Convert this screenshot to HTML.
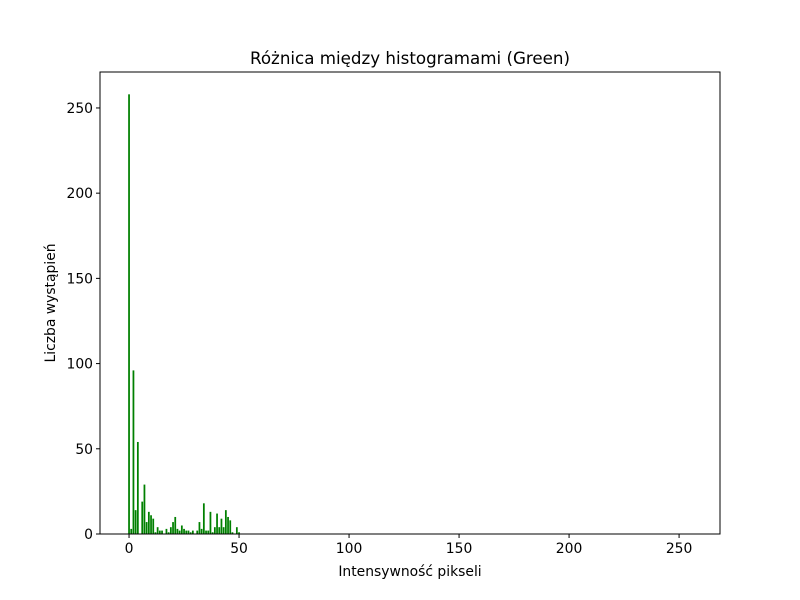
<!DOCTYPE html>
<html><head><meta charset="utf-8"><style>
body{margin:0;background:#fff;}
svg{display:block;font-family:"DejaVu Sans","Liberation Sans",sans-serif;}
</style></head><body>
<svg id="chart" width="800" height="600">
<rect width="800" height="600" fill="#fff"/>
<text x="410" y="64" text-anchor="middle" font-size="16.7">Różnica między histogramami (Green)</text>
<text x="410" y="576" text-anchor="middle" font-size="13.9">Intensywność pikseli</text>
<text transform="translate(55,303) rotate(-90)" text-anchor="middle" font-size="13.9">Liczba wystąpień</text>
<g id="bars"></g>
<g id="ticks"></g>
<rect x="100" y="72" width="620" height="462" fill="none" stroke="#000" stroke-width="1"/>
</svg>
<script>
const intensities = [0,1,2,3,4,5,6,7,8,9,10,11,12,13,14,15,16,17,18,19,20,21,22,23,24,25,26,27,28,29,30,31,32,33,34,35,36,37,38,39,40,41,42,43,44,45,46,47,48,49,50];
const counts = [258,3,96,14,54,0,19,29,7,13,11,9,1,4,2,2,0,3,1,4,7,10,3,2,5,3,2,2,1,2,0,2,7,3,18,2,2,13,1,4,12,4,9,4,14,10,8,1,0,4,1];
const xTicks = [0,50,100,150,200,250];
const yTicks = [0,50,100,150,200,250];
const NS='http://www.w3.org/2000/svg';
const X0=100,X1=720,Y0=534,Y1=72;
const xmin=-13.2,xmax=268.6,ymin=0,ymax=271.1;
const sx=v=>X0+(v-xmin)/(xmax-xmin)*(X1-X0);
const sy=v=>Y0-(v-ymin)/(ymax-ymin)*(Y0-Y1);
const bars=document.getElementById('bars');
intensities.forEach((v,i)=>{
  if(!counts[i])return;
  const r=document.createElementNS(NS,'rect');
  r.setAttribute('x',sx(v-0.4));r.setAttribute('width',sx(v+0.4)-sx(v-0.4));
  r.setAttribute('y',sy(counts[i]));r.setAttribute('height',sy(0)-sy(counts[i]));
  r.setAttribute('fill','#008000');
  
  
  bars.appendChild(r);
});
const tg=document.getElementById('ticks');
xTicks.forEach(t=>{
  const x=sx(t);
  const l=document.createElementNS(NS,'line');
  l.setAttribute('x1',x);l.setAttribute('x2',x);l.setAttribute('y1',Y0);l.setAttribute('y2',Y0+4);l.setAttribute('stroke','#000');
  
  
  tg.appendChild(l);
  const tx=document.createElementNS(NS,'text');
  tx.setAttribute('x',x);tx.setAttribute('y',Y0+19);tx.setAttribute('text-anchor','middle');tx.setAttribute('font-size','13.9');
  tx.textContent=t;
  
  
  tg.appendChild(tx);
});
yTicks.forEach(t=>{
  const y=sy(t);
  const l=document.createElementNS(NS,'line');
  l.setAttribute('x1',X0-4);l.setAttribute('x2',X0);l.setAttribute('y1',y);l.setAttribute('y2',y);l.setAttribute('stroke','#000');
  
  
  tg.appendChild(l);
  const tx=document.createElementNS(NS,'text');
  tx.setAttribute('x',X0-7);tx.setAttribute('y',y+5);tx.setAttribute('text-anchor','end');tx.setAttribute('font-size','13.9');
  tx.textContent=t;
  
  
  tg.appendChild(tx);
});
</script>
</body></html>
